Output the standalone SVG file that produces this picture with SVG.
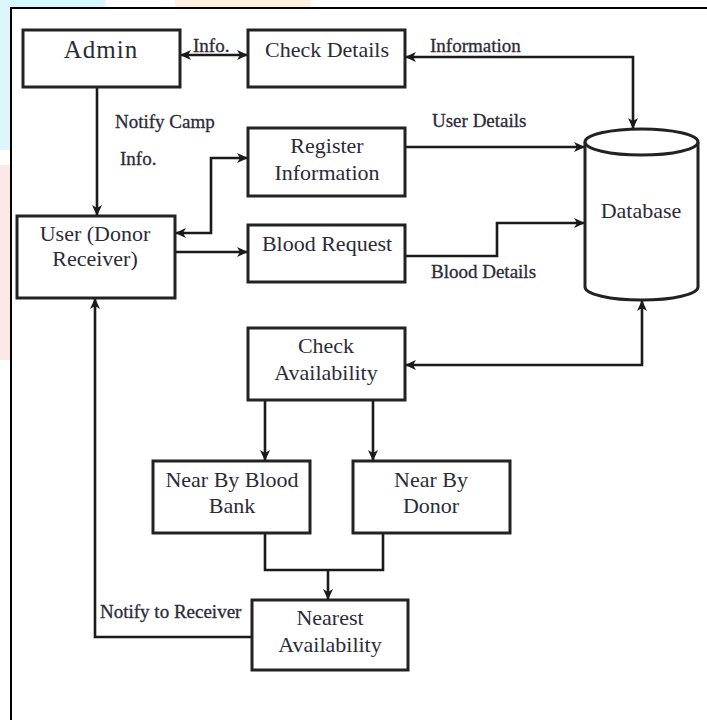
<svg xmlns="http://www.w3.org/2000/svg" width="707" height="720" viewBox="0 0 707 720">
  <defs>
    <marker id="arr" markerUnits="userSpaceOnUse" markerWidth="12" markerHeight="12" viewBox="0 0 12 12" refX="11" refY="6" orient="auto-start-reverse">
      <path d="M0,1 L11,6 L0,11 L3,6 Z" fill="#1a1a1a"/>
    </marker>
  </defs>
  <style>
    .box { fill: #ffffff; stroke: #222222; stroke-width: 3; }
    .conn { fill: none; stroke: #1a1a1a; stroke-width: 2.6; }
    .t { font-family: "Liberation Serif", "Times New Roman", serif; font-size: 22px; fill: #2b2b38; text-anchor: middle; }
    .lbl { font-family: "Liberation Serif", "Times New Roman", serif; font-size: 19px; fill: #2b2b38; stroke: #2b2b38; stroke-width: 0.3; }
  </style>
  <rect x="0" y="0" width="707" height="720" fill="#ffffff"/>
  <!-- faint watermark remnants -->
  <rect x="0" y="0" width="105" height="8" fill="#d6f8fc"/>
  <rect x="175" y="0" width="136" height="8" fill="#fff0e0"/>
  <rect x="0" y="0" width="10" height="150" fill="#dcf6fb"/>
  <rect x="0" y="165" width="10" height="195" fill="#fde8e8"/>
  <!-- frame -->
  <path d="M11,720 V8 H707" fill="none" stroke="#000000" stroke-width="2"/>

  <g id="connectors">
    <path class="conn" d="M180,55 H248" marker-start="url(#arr)" marker-end="url(#arr)"/>
    <path class="conn" d="M97,87 V216" marker-end="url(#arr)"/>
    <path class="conn" d="M175,233 H211 V158 H248" marker-start="url(#arr)" marker-end="url(#arr)"/>
    <path class="conn" d="M175,252 H248" marker-end="url(#arr)"/>
    <path class="conn" d="M405,57 H633 V129" marker-start="url(#arr)" marker-end="url(#arr)"/>
    <path class="conn" d="M405,147 H585" marker-end="url(#arr)"/>
    <path class="conn" d="M405,256 H497 V223 H585" marker-end="url(#arr)"/>
    <path class="conn" d="M405,365 H642 V300" marker-start="url(#arr)" marker-end="url(#arr)"/>
    <path class="conn" d="M265,400 V461" marker-end="url(#arr)"/>
    <path class="conn" d="M373,400 V461" marker-end="url(#arr)"/>
    <path class="conn" d="M265,533 V570 H383 V533"/>
    <path class="conn" d="M328,570 V600" marker-end="url(#arr)"/>
    <path class="conn" d="M252,637 H95 V298" marker-end="url(#arr)"/>
    <text class="lbl" x="193" y="52">Info.</text>
    <text class="lbl" x="430" y="52">Information</text>
    <text class="lbl" x="115" y="128">Notify Camp</text>
    <text class="lbl" x="120" y="165">Info.</text>
    <text class="lbl" x="432" y="127">User Details</text>
    <text class="lbl" x="431" y="278">Blood Details</text>
    <text class="lbl" x="100" y="618">Notify to Receiver</text>
  </g>

  <g id="admin">
    <rect class="box" x="23" y="30" width="157" height="57"/>
    <text class="t" x="101" y="58" style="font-size:25px;letter-spacing:1px">Admin</text>
  </g>
  <g id="check-details">
    <rect class="box" x="248" y="30" width="157" height="57"/>
    <text class="t" x="327" y="57">Check Details</text>
  </g>
  <g id="register-information">
    <rect class="box" x="248" y="128" width="157" height="68"/>
    <text class="t" x="327" y="153">Register</text>
    <text class="t" x="327" y="180">Information</text>
  </g>
  <g id="user">
    <rect class="box" x="17" y="216" width="158" height="82"/>
    <text class="t" x="95" y="241">User (Donor</text>
    <text class="t" x="95" y="266">Receiver)</text>
  </g>
  <g id="blood-request">
    <rect class="box" x="248" y="225" width="157" height="57"/>
    <text class="t" x="327" y="251">Blood Request</text>
  </g>
  <g id="database">
    <path class="box" d="M585,142 V287 A56.5,13 0 0 0 698,287 V142"/>
    <ellipse class="box" cx="641.5" cy="142" rx="56.5" ry="13"/>
    <text class="t" x="641" y="218">Database</text>
  </g>
  <g id="check-availability">
    <rect class="box" x="248" y="328" width="157" height="72"/>
    <text class="t" x="326" y="353">Check</text>
    <text class="t" x="326" y="380">Availability</text>
  </g>
  <g id="near-by-blood-bank">
    <rect class="box" x="153" y="461" width="157" height="72"/>
    <text class="t" x="232" y="487">Near By Blood</text>
    <text class="t" x="232" y="513">Bank</text>
  </g>
  <g id="near-by-donor">
    <rect class="box" x="353" y="461" width="157" height="72"/>
    <text class="t" x="431" y="487">Near By</text>
    <text class="t" x="431" y="513">Donor</text>
  </g>
  <g id="nearest-availability">
    <rect class="box" x="252" y="600" width="156" height="70"/>
    <text class="t" x="330" y="625">Nearest</text>
    <text class="t" x="330" y="652">Availability</text>
  </g>
</svg>
